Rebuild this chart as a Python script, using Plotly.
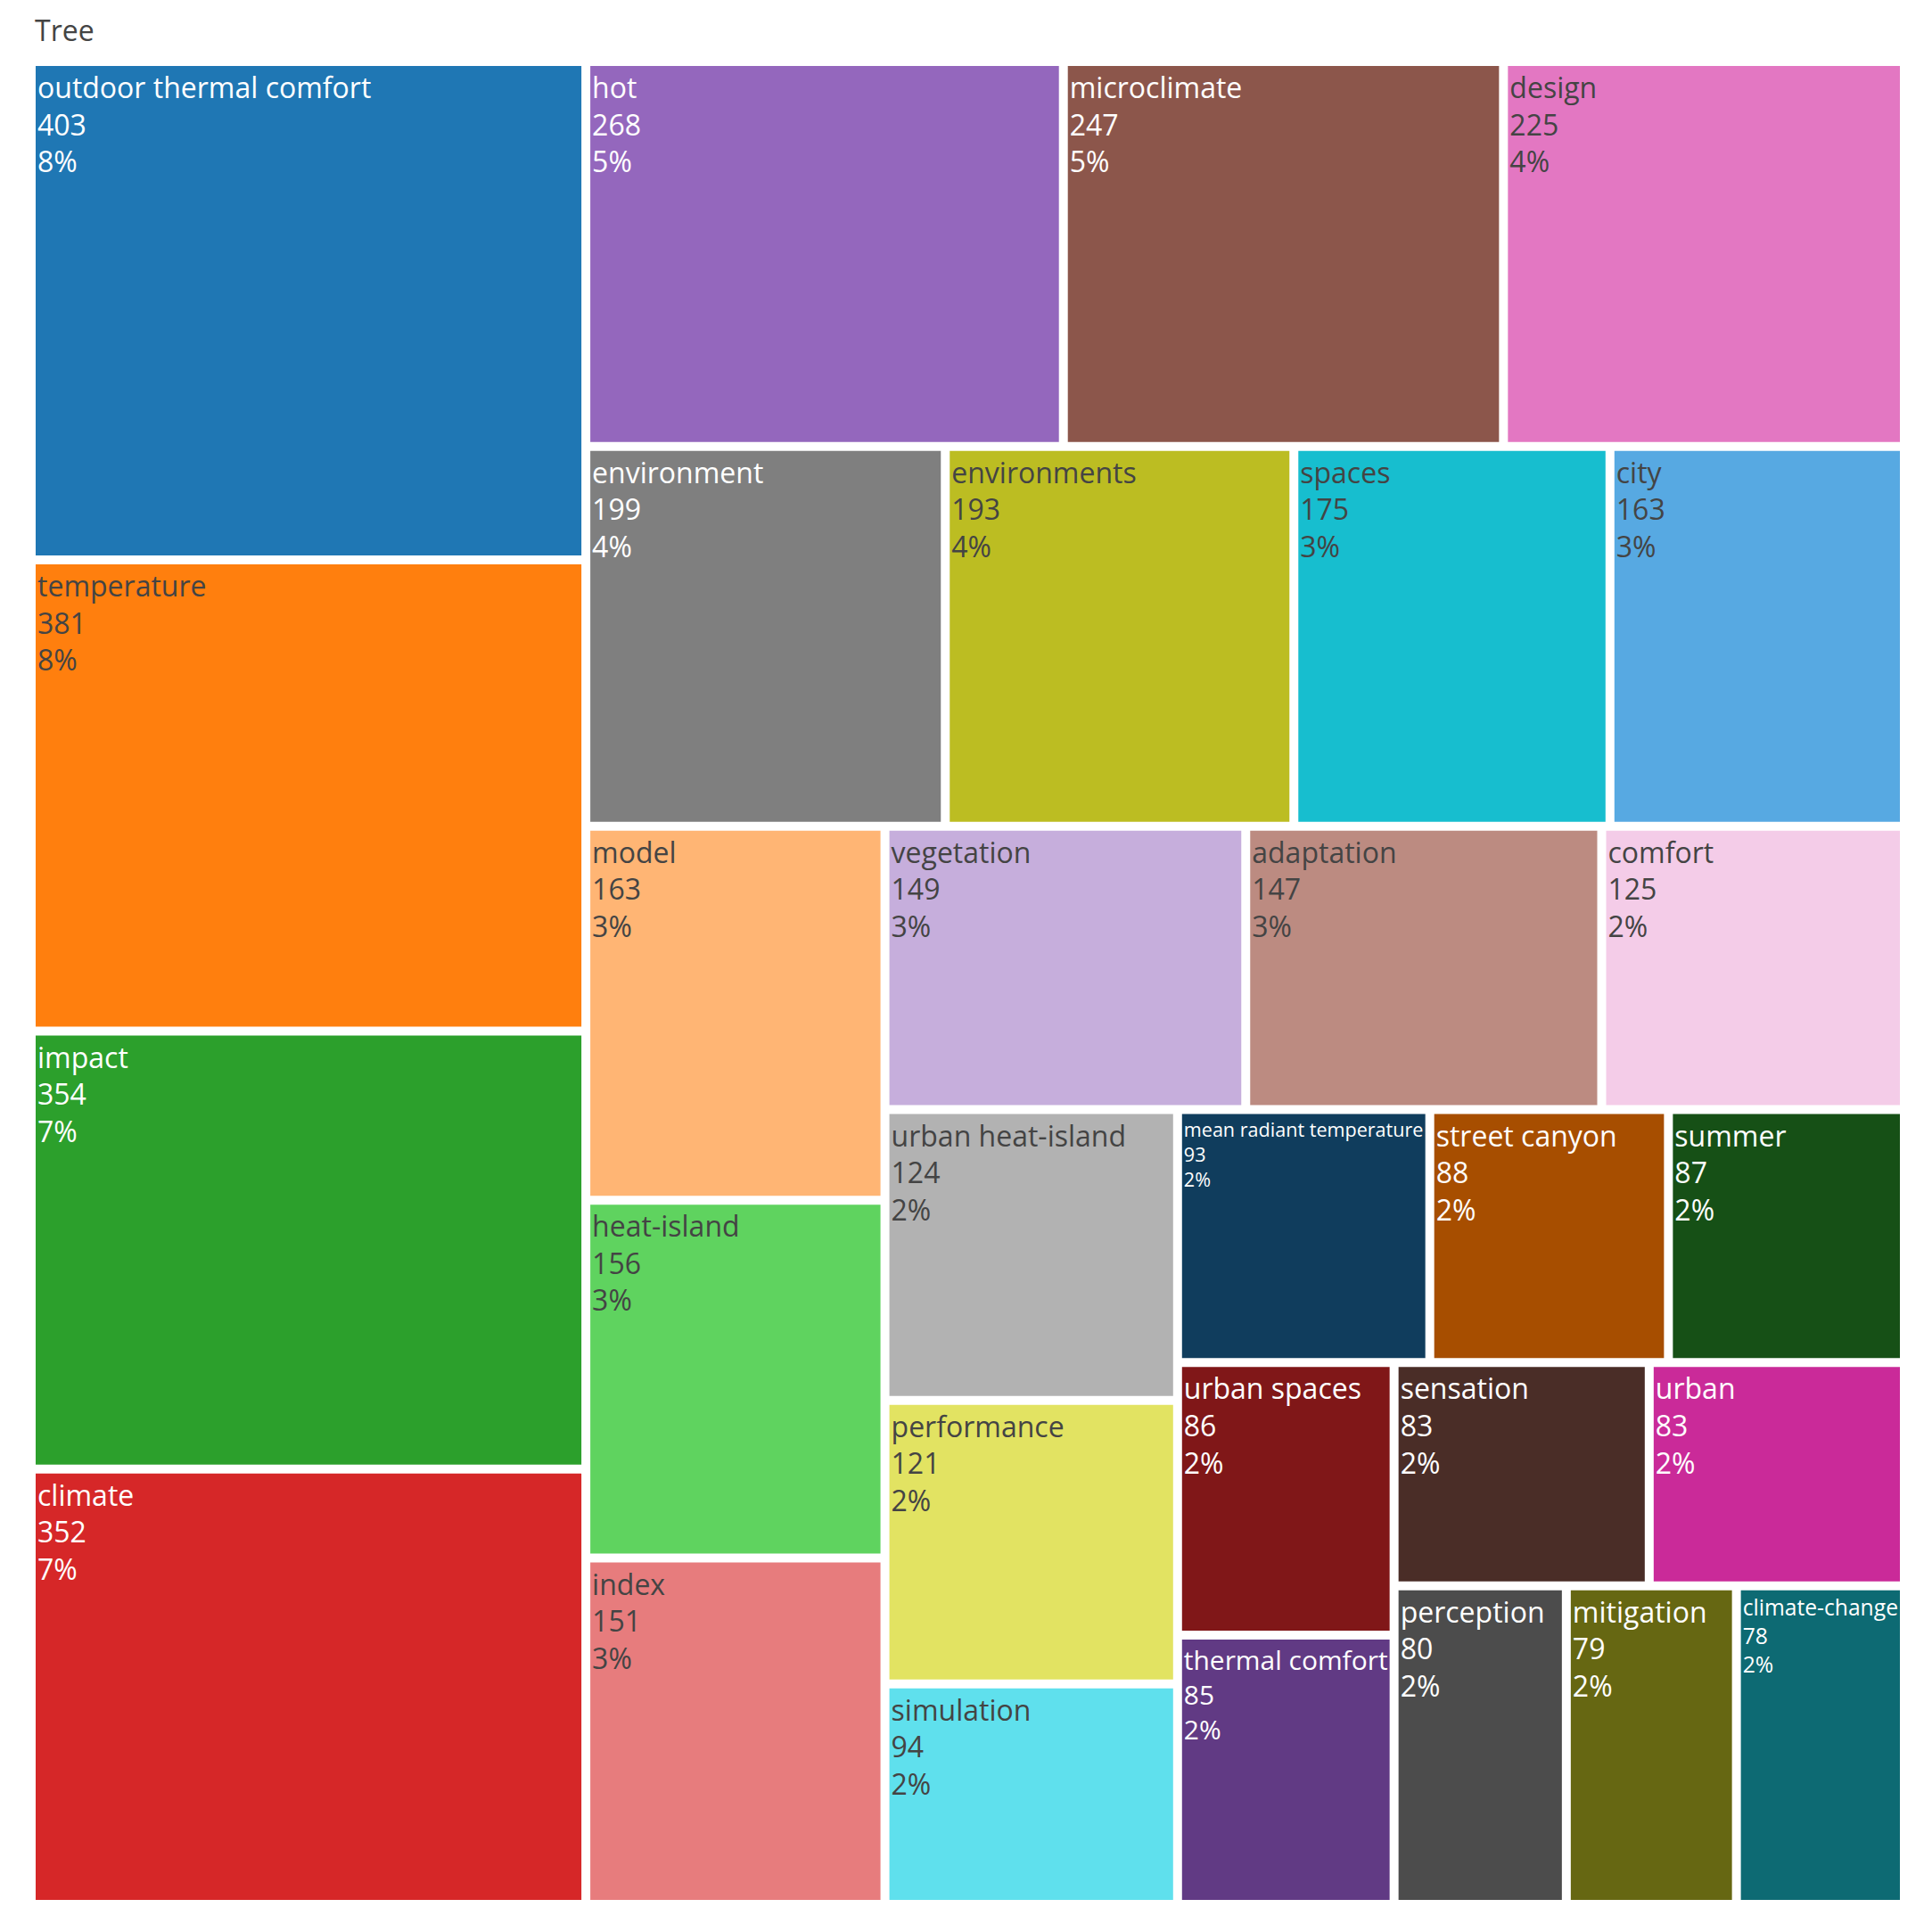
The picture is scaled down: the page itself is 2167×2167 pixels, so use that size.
import colorsys
import plotly.graph_objects as go

# keyword counts (root node "Tree")
ROOT = "Tree"
labels = [
    "outdoor thermal comfort", "temperature", "impact", "climate", "hot",
    "microclimate", "design", "environment", "environments", "spaces",
    "city", "model", "heat-island", "index", "vegetation",
    "adaptation", "comfort", "urban heat-island", "performance", "simulation",
    "mean radiant temperature", "street canyon", "summer", "urban spaces", "thermal comfort",
    "sensation", "urban", "perception", "mitigation", "climate-change",
]
values = [
    403, 381, 354, 352, 268,
    247, 225, 199, 193, 175,
    163, 163, 156, 151, 149,
    147, 125, 124, 121, 94,
    93, 88, 87, 86, 85,
    83, 83, 80, 79, 78,
]

# D3 category10, then lighter and darker variants of it
base = ["#1f77b4", "#ff7f0e", "#2ca02c", "#d62728", "#9467bd",
        "#8c564b", "#e377c2", "#7f7f7f", "#bcbd22", "#17becf"]


def shade(hex_color, dl):
    r, g, b = (int(hex_color[i:i + 2], 16) / 255 for i in (1, 3, 5))
    h, l, s = colorsys.rgb_to_hls(r, g, b)
    l = min(1.0, max(0.0, l + dl))
    r, g, b = colorsys.hls_to_rgb(h, l, s)
    return "#%02x%02x%02x" % (round(r * 255), round(g * 255), round(b * 255))


palette = base + [shade(c, 0.2) for c in base] + [shade(c, -0.2) for c in base]
colors = palette[:len(labels)]

fig = go.Figure(go.Treemap(
    labels=[ROOT] + labels,
    parents=[""] + [ROOT] * len(labels),
    values=[0] + values,
    marker=dict(
        colors=["white"] + colors,
        line=dict(width=2, color="white"),
        pad=dict(t=64, l=18, r=18, b=18),
    ),
    texttemplate=["%{label}"] + ["%{label}<br>%{value}<br>%{percentRoot:.0%}"] * len(labels),
    textfont=dict(family="Open Sans, verdana, arial, sans-serif", size=32),
    tiling=dict(pad=8),
    pathbar=dict(visible=False),
    root=dict(color="white"),
    sort=True,
))

fig.update_layout(
    width=2167,
    height=2167,
    margin=dict(l=13, r=25, t=1, b=25),
    paper_bgcolor="white",
    font=dict(family="Open Sans, verdana, arial, sans-serif", color="#444"),
)

fig.write_html("out.html")
